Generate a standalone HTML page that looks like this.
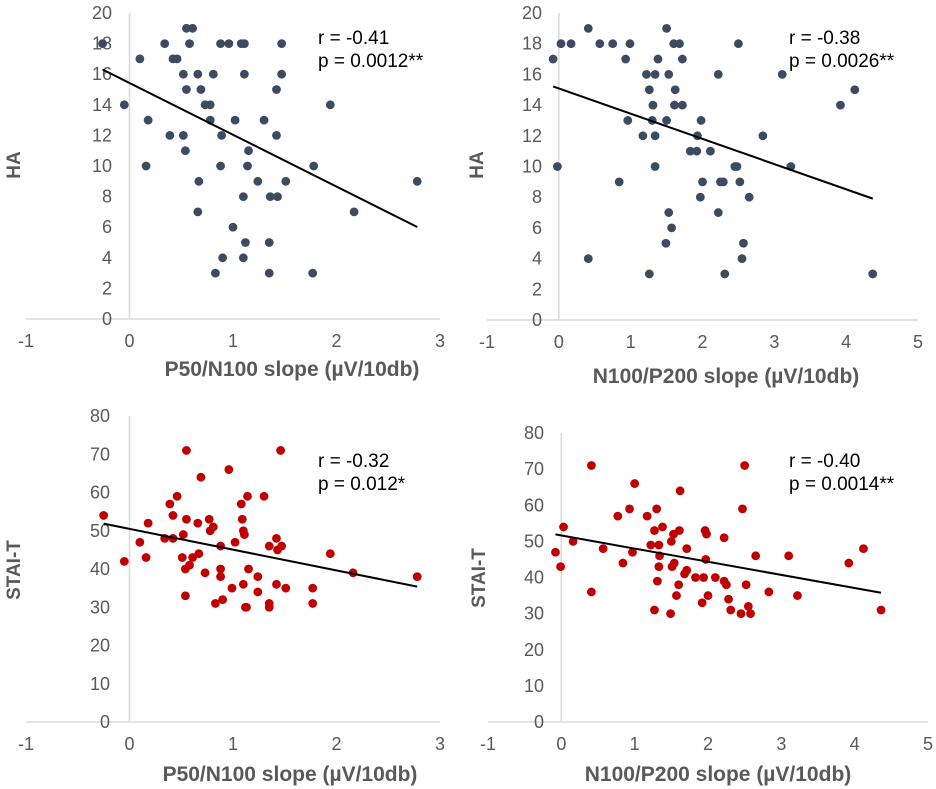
<!DOCTYPE html>
<html><head><meta charset="utf-8">
<style>
html,body{margin:0;padding:0;background:#fff;}
svg{display:block;font-family:"Liberation Sans",Arial,sans-serif;}
.tick{fill:#595959;font-size:18px;}
.ttl{fill:#595959;font-size:19px;font-weight:bold;}
.xttl{fill:#595959;font-size:21px;font-weight:bold;}
.stat{fill:#000;font-size:19px;}
</style></head>
<body>
<svg id="chart" width="936" height="789" viewBox="0 0 936 789"></svg>
<script>
// Panel A: HA vs P50/N100
const haP50X = [-0.26,0.10,-0.05,0.18,0.16,0.34,0.39,0.42,0.46,0.52,0.52,0.54,0.55,0.55,0.61,0.58,0.66,0.67,0.66,0.69,0.73,0.78,0.78,0.81,0.83,0.88,0.96,0.89,0.88,0.90,1.00,1.02,1.08,1.11,1.11,1.15,1.14,1.10,1.12,1.10,1.24,1.30,1.36,1.43,1.35,1.35,1.42,1.42,1.47,1.47,1.51,1.78,1.77,1.94,2.17,2.78];
const haP50Y = [18,17,14,13,10,18,12,17,17,16,12,11,15,19,19,18,16,9,7,15,14,14,13,16,3,18,18,12,10,4,6,13,18,18,16,11,10,8,5,4,9,13,8,8,5,3,15,12,18,16,9,10,3,14,7,9];
// Panel B: HA vs N100/P200
const haN100X = [-0.08,-0.02,0.03,0.17,0.41,0.41,0.57,0.75,0.84,0.93,0.96,0.99,1.17,1.22,1.26,1.26,1.30,1.31,1.34,1.34,1.34,1.38,1.50,1.50,1.49,1.53,1.53,1.57,1.60,1.68,1.62,1.61,1.72,1.72,1.83,1.92,1.93,1.98,1.97,2.00,2.11,2.22,2.22,2.25,2.29,2.31,2.45,2.48,2.50,2.52,2.65,2.57,2.55,2.84,3.11,3.23,3.92,4.12,4.37];
const haN100Y = [17,10,18,18,19,4,18,18,9,17,13,18,12,16,15,3,13,14,16,12,10,17,19,13,5,16,7,6,18,18,15,14,14,17,11,11,12,13,8,9,11,16,7,9,9,3,10,10,18,9,8,5,4,12,16,10,14,15,3];
// Panel C: STAI-T vs P50/N100
const stP50X = [-0.25,-0.05,0.10,0.16,0.18,0.34,0.39,0.42,0.42,0.46,0.52,0.51,0.55,0.55,0.54,0.54,0.58,0.61,0.66,0.67,0.69,0.73,0.77,0.78,0.81,0.83,0.88,0.88,0.88,0.90,0.96,0.99,1.02,1.08,1.09,1.10,1.11,1.10,1.12,1.13,1.14,1.15,1.24,1.24,1.30,1.35,1.35,1.35,1.42,1.43,1.47,1.46,1.42,1.51,1.77,1.77,1.94,2.16,2.78];
const stP50Y = [54,42,47,43,52,48,57,54,48,59,49,43,71,53,40,33,41,43,52,44,64,39,53,50,51,31,46,40,38,32,66,35,47,57,53,50,49,36,30,30,59,40,38,34,59,46,31,30,48,45,46,71,36,35,35,31,44,39,38];
// Panel D: STAI-T vs N100/P200
const stN100X = [-0.08,-0.01,0.03,0.16,0.41,0.41,0.57,0.77,0.84,0.93,0.97,1.00,1.17,1.22,1.27,1.27,1.30,1.31,1.33,1.34,1.33,1.38,1.49,1.50,1.51,1.53,1.54,1.57,1.60,1.61,1.62,1.71,1.68,1.71,1.83,1.92,1.94,1.96,1.98,1.97,2.00,2.10,2.22,2.22,2.25,2.28,2.31,2.45,2.47,2.50,2.52,2.55,2.58,2.65,2.83,3.10,3.22,3.92,4.12,4.36];
const stN100Y = [47,43,54,50,71,36,48,57,44,59,47,66,57,49,53,31,59,39,49,46,43,54,30,50,43,52,44,35,38,53,64,48,41,42,40,33,40,53,52,45,35,40,51,39,38,34,31,30,59,71,38,32,30,46,36,46,35,44,48,31];
const xTicksA = ["-1","0","1","2","3"];
const xTicksB = ["-1","0","1","2","3","4","5"];
const yTicksHA = ["0","2","4","6","8","10","12","14","16","18","20"];
const yTicksST = ["0","10","20","30","40","50","60","70","80"];
const statsR = ["r = -0.41","r = -0.38","r = -0.32","r = -0.40"];
const statsP = ["p = 0.0012**","p = 0.0026**","p = 0.012*","p = 0.0014**"];

const NS="http://www.w3.org/2000/svg";
const svg=document.getElementById('chart');
function mk(tag,attrs,parent){const e=document.createElementNS(NS,tag);for(const k in attrs)e.setAttribute(k,attrs[k]);(parent||svg).appendChild(e);return e;}

function panel(cfg,xs,ys,xt,yt,rTxt,pTxt,idx){
  const g=mk('g',{});
  
  
  const xMin=+xt[0], xMax=+xt[xt.length-1], yMin=+yt[0], yMax=+yt[yt.length-1];
  const sx=v=>cfg.x0+(v-xMin)/(xMax-xMin)*(cfg.x1-cfg.x0);
  const sy=v=>cfg.y0-(v-yMin)/(yMax-yMin)*(cfg.y0-cfg.y1);
  const xa=mk('line',{x1:cfg.x0,x2:cfg.x1,y1:cfg.y0,y2:cfg.y0,stroke:'#d9d9d9','stroke-width':1.5},g);
  
  
  const ya=mk('line',{x1:sx(0),x2:sx(0),y1:cfg.y1,y2:cfg.y0,stroke:'#d9d9d9','stroke-width':1.5},g);
  
  
  xt.forEach(t=>{const e=mk('text',{x:sx(+t),y:cfg.y0+28,'text-anchor':'middle',class:'tick'},g);e.textContent=t;
    
    });
  yt.forEach(t=>{const e=mk('text',{x:cfg.yl,y:sy(+t)+6,'text-anchor':'end',class:'tick'},g);e.textContent=t;
    
    });
  xs.forEach((x,i)=>{const c=mk('circle',{cx:sx(x),cy:sy(ys[i]),r:4.4,fill:cfg.color},g);
    
    });
  const n=xs.length;let mx=0,my=0;xs.forEach((x,i)=>{mx+=x;my+=ys[i];});mx/=n;my/=n;
  let sxy=0,sxx=0;xs.forEach((x,i)=>{sxy+=(x-mx)*(ys[i]-my);sxx+=(x-mx)*(x-mx);});
  const b=sxy/sxx,a=my-b*mx;const lo=Math.min(...xs),hi=Math.max(...xs);
  const tl=mk('line',{x1:sx(lo),y1:sy(a+b*lo),x2:sx(hi),y2:sy(a+b*hi),stroke:'#000','stroke-width':2},g);
  
  
  const r=mk('text',{x:cfg.sx,y:cfg.sy,class:'stat'},g);r.textContent=rTxt;
  
  
  const p=mk('text',{x:cfg.sx,y:cfg.sy+23,class:'stat'},g);p.textContent=pTxt;
  
  
  const xtl=mk('text',{x:cfg.xtx,y:cfg.xty,'text-anchor':'middle',class:'xttl'},g);xtl.textContent=cfg.xtitle;
  
  
  const ytl=mk('text',{x:0,y:0,'text-anchor':'middle',class:'ttl',transform:`translate(${cfg.ytx},${cfg.yty}) rotate(-90)`},g);ytl.textContent=cfg.ytitle;
  
  
}
panel({x0:26,x1:440,y0:319,y1:13,yl:112,color:'#3d4b62',sx:318,sy:44,xtx:292,xty:376,ytx:20,yty:165,xtitle:'P50/N100 slope (µV/10db)',ytitle:'HA'},haP50X,haP50Y,xTicksA,yTicksHA,statsR[0],statsP[0],'a');
panel({x0:487,x1:918,y0:320,y1:13,yl:542,color:'#3d4b62',sx:789,sy:44,xtx:726,xty:383,ytx:483,yty:165,xtitle:'N100/P200 slope (µV/10db)',ytitle:'HA'},haN100X,haN100Y,xTicksB,yTicksHA,statsR[1],statsP[1],'b');
panel({x0:26,x1:440,y0:722,y1:416,yl:110,color:'#c00000',sx:318,sy:467,xtx:290,xty:781,ytx:20,yty:570,xtitle:'P50/N100 slope (µV/10db)',ytitle:'STAI-T'},stP50X,stP50Y,xTicksA,yTicksST,statsR[2],statsP[2],'c');
panel({x0:488,x1:928,y0:722,y1:433,yl:544,color:'#c00000',sx:789,sy:467,xtx:718,xty:781,ytx:485,yty:578,xtitle:'N100/P200 slope (µV/10db)',ytitle:'STAI-T'},stN100X,stN100Y,xTicksB,yTicksST,statsR[3],statsP[3],'d');
</script>
</body></html>
